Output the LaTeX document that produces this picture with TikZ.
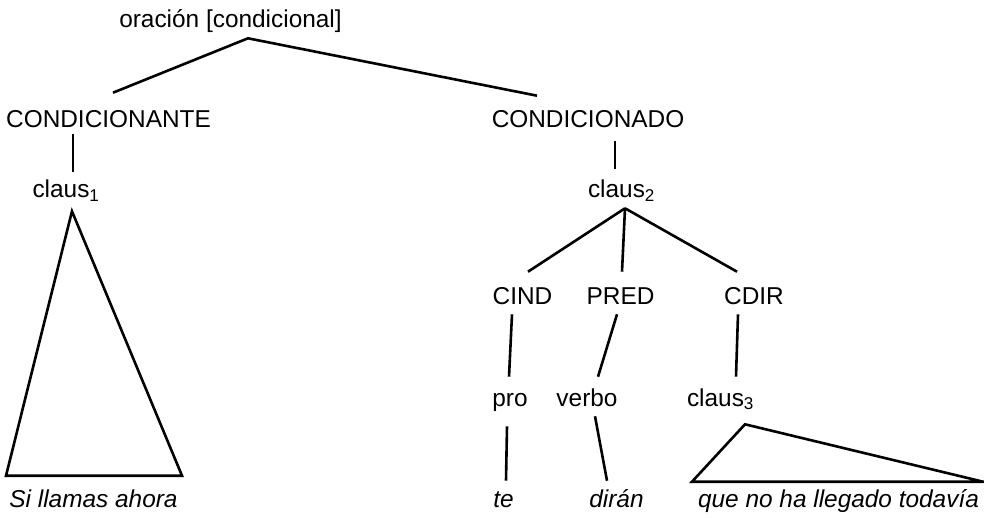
\documentclass[tikz,border=0pt]{standalone}
\usepackage{fontspec}
\setmainfont{Liberation Sans}
\newcommand{\arbolfont}{\fontsize{24.4}{29}\selectfont}

\begin{document}
\begin{tikzpicture}[x=1pt, y=-1pt, font=\arbolfont, line width=2.6pt,
  etiqueta/.style={anchor=base, inner sep=4pt, text height=18pt, text depth=5pt},
  hoja/.style={etiqueta, font=\arbolfont\itshape}]
\useasboundingbox (0,0) rectangle (984,518);

\node[etiqueta] (orac) at (230.5, 28) {oración [condicional]};
\node[etiqueta] (cnte) at (108.5, 128) {CONDICIONANTE};
\node[etiqueta] (cndo) at (588, 128) {CONDICIONADO};
\node[etiqueta] (cl1) at (66, 198) {claus\textsubscript{1}};
\node[etiqueta] (cl2) at (621.5, 198) {claus\textsubscript{2}};
\node[etiqueta] (cind) at (522.5, 305) {CIND};
\node[etiqueta] (pred) at (620.5, 305) {PRED};
\node[etiqueta] (cdir) at (754, 305) {CDIR};
\node[etiqueta] (pro) at (510, 406) {pro};
\node[etiqueta] (verbo) at (587, 406) {verbo};
\node[etiqueta] (cl3) at (720.5, 406) {claus\textsubscript{3}};
\node[hoja] (sla) at (93.5, 507) {Si llamas ahora};
\node[hoja] (te) at (503.5, 507) {te};
\node[hoja] (diran) at (616.5, 507) {dirán};
\node[hoja] (que) at (838.5, 507) {que no ha llegado todavía};

% rama principal
\draw ([shift={(4.5pt,12pt)}]cnte.north) -- ([xshift=17.5pt]orac.south) -- ([shift={(-51pt,9pt)}]cndo.north);

% condicionante
\draw ([shift={(-35.5pt,4pt)}]cnte.south) -- ([shift={(7pt,3pt)}]cl1.north);
\draw ([shift={(6pt,-3pt)}]cl1.south) -- ([shift={(-87.5pt,8pt)}]sla.north) -- ([shift={(88.5pt,8pt)}]sla.north) -- cycle;

% condicionado
\draw ([shift={(27pt,-3pt)}]cndo.south) -- ([shift={(-6.5pt,6pt)}]cl2.north);
\draw ([xshift=3.5pt]cl2.south) -- ([shift={(5.5pt,10pt)}]cind.north);
\draw ([xshift=3.5pt]cl2.south) -- ([shift={(1.5pt,10pt)}]pred.north);
\draw ([xshift=3.5pt]cl2.south) -- ([shift={(-17pt,10pt)}]cdir.north);
\draw ([shift={(-10.5pt,1pt)}]cind.south) -- ([shift={(-1pt,6pt)}]pro.north);
\draw ([shift={(-3.5pt,1pt)}]pred.south) -- ([shift={(11pt,6pt)}]verbo.north);
\draw ([shift={(-16pt,1pt)}]cdir.south) -- ([shift={(15.5pt,6pt)}]cl3.north);
\draw ([shift={(-3pt,-10pt)}]pro.south) -- ([shift={(2.5pt,3pt)}]te.north);
\draw ([xshift=8pt]verbo.south) -- ([shift={(-9.5pt,3pt)}]diran.north);
\draw ([shift={(24.5pt,-8pt)}]cl3.south) -- ([shift={(-146.5pt,2pt)}]que.north) -- ([shift={(144.5pt,2pt)}]que.north) -- cycle;
\end{tikzpicture}
\end{document}
